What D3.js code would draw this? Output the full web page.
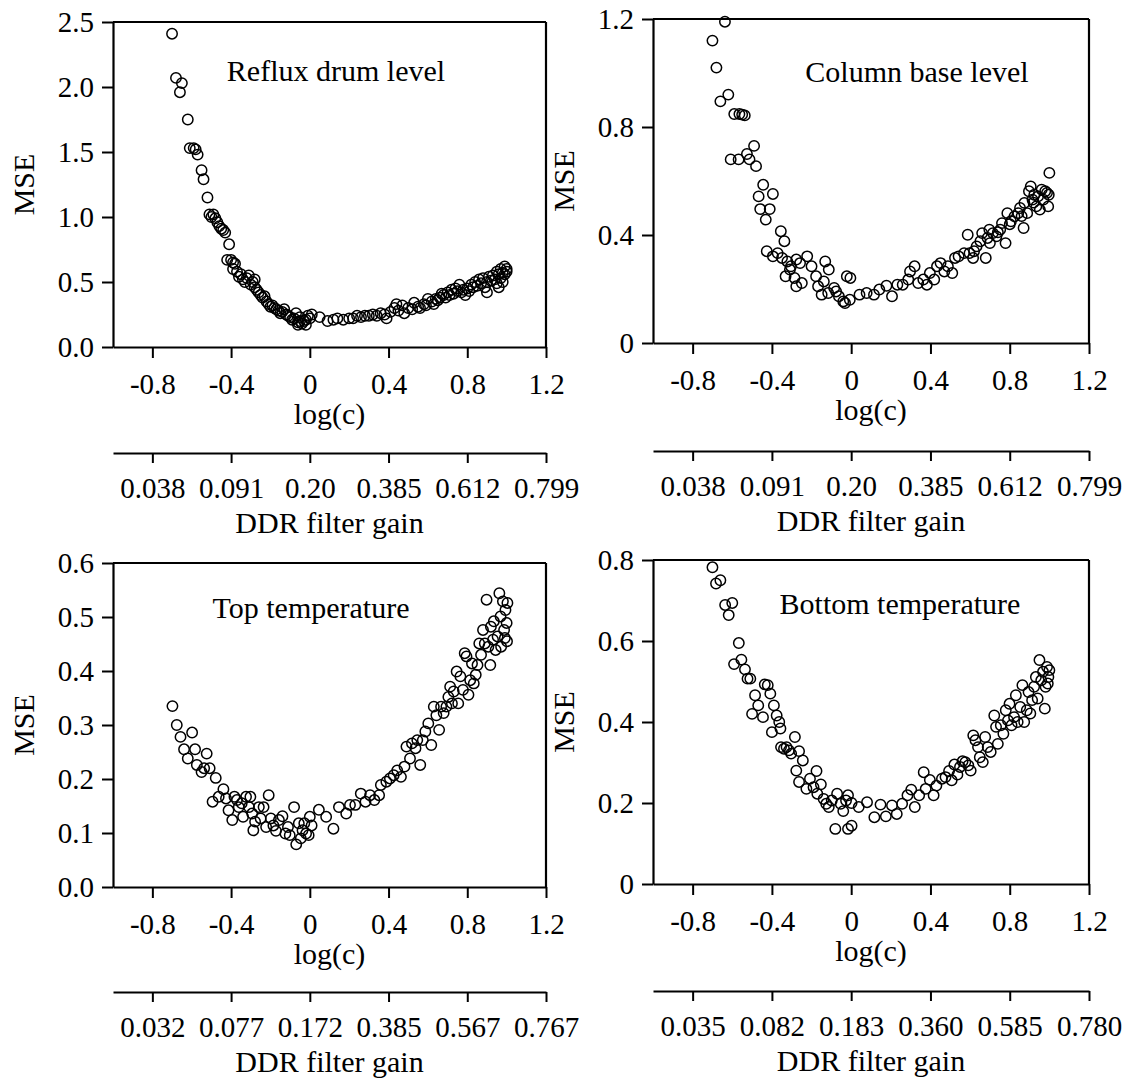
<!DOCTYPE html>
<html>
<head>
<meta charset="utf-8">
<script src="https://cdn.jsdelivr.net/npm/d3@7"></script>
<style>
  body { margin: 0; background: #fff; }
  svg { display: block; }
</style>
</head>
<body>
<div id="chart"></div>
<script>
// Shared log(c) ticks and the DDR filter gain labels that sit under them.
var xTicks = [-0.8, -0.4, 0, 0.4, 0.8, 1.2];
var gainLevel = ["0.038", "0.091", "0.20", "0.385", "0.612", "0.799"];
var gainTopTemp = ["0.032", "0.077", "0.172", "0.385", "0.567", "0.767"];
var gainBottomTemp = ["0.035", "0.082", "0.183", "0.360", "0.585", "0.780"];

var yTicksReflux = [0, 0.5, 1.0, 1.5, 2.0, 2.5];
var yTicksBase = [0, 0.4, 0.8, 1.2];
var yTicksTopTemp = [0, 0.1, 0.2, 0.3, 0.4, 0.5, 0.6];
var yTicksBottomTemp = [0, 0.2, 0.4, 0.6, 0.8];

// [log(c), MSE].
var refluxDrum = [
  [-0.70,2.41],[-0.68,2.07],[-0.65,2.03],[-0.66,1.96],[-0.62,1.75],
  [-0.61,1.53],[-0.59,1.53],[-0.58,1.52],[-0.57,1.48],[-0.55,1.36],[-0.54,1.29],
  [-0.52,1.15],[-0.51,1.02],[-0.50,1.00],[-0.49,1.02],[-0.48,0.99],[-0.47,0.96],
  [-0.46,0.93],[-0.45,0.91],[-0.44,0.90],[-0.43,0.88],[-0.41,0.79],
  [-0.42,0.67],[-0.40,0.67],[-0.39,0.65],[-0.38,0.64],[-0.39,0.60],[-0.37,0.58],
  [-0.36,0.54],[-0.35,0.56],[-0.34,0.52],[-0.33,0.50],[-0.32,0.53],[-0.31,0.55],
  [-0.30,0.48],[-0.29,0.50],[-0.28,0.46],[-0.28,0.52],[-0.27,0.44],[-0.26,0.42],
  [-0.25,0.40],[-0.24,0.38],[-0.23,0.39],[-0.22,0.35],[-0.21,0.33],[-0.20,0.31],
  [-0.19,0.32],[-0.18,0.30],[-0.17,0.29],[-0.16,0.28],[-0.15,0.26],[-0.14,0.27],
  [-0.13,0.29],[-0.12,0.25],[-0.11,0.24],[-0.10,0.23],[-0.09,0.21],[-0.08,0.22],
  [-0.07,0.26],[-0.06,0.19],[-0.05,0.20],[-0.05,0.23],[-0.04,0.18],[-0.03,0.20],
  [-0.02,0.21],[-0.01,0.24],[0.00,0.22],[0.01,0.25],[-0.02,0.17],[-0.06,0.17],
  [0.05,0.23],[0.09,0.20],[0.12,0.21],[0.14,0.22],[0.17,0.21],[0.20,0.22],
  [0.22,0.22],[0.24,0.24],[0.26,0.23],[0.28,0.24],[0.30,0.24],[0.32,0.25],
  [0.34,0.24],[0.36,0.26],[0.38,0.25],[0.39,0.22],[0.41,0.27],[0.43,0.30],
  [0.44,0.33],[0.45,0.28],[0.47,0.32],[0.48,0.26],[0.50,0.30],[0.52,0.29],
  [0.53,0.34],[0.55,0.31],[0.56,0.30],[0.58,0.33],[0.59,0.32],[0.60,0.37],
  [0.62,0.35],[0.63,0.33],[0.64,0.37],[0.65,0.36],[0.66,0.38],[0.67,0.41],
  [0.68,0.40],[0.69,0.38],[0.70,0.42],[0.71,0.40],[0.72,0.44],[0.73,0.41],
  [0.74,0.45],[0.75,0.43],[0.76,0.48],[0.77,0.42],[0.78,0.44],[0.79,0.40],
  [0.80,0.45],[0.81,0.43],[0.82,0.48],[0.83,0.46],[0.84,0.50],[0.85,0.47],
  [0.86,0.52],[0.87,0.49],[0.88,0.53],[0.89,0.46],[0.90,0.50],[0.90,0.42],
  [0.91,0.54],[0.92,0.51],[0.93,0.55],[0.94,0.52],[0.95,0.58],[0.95,0.49],
  [0.96,0.56],[0.96,0.46],[0.97,0.60],[0.97,0.53],[0.98,0.57],[0.98,0.50],
  [0.99,0.62],[0.99,0.56],[1.00,0.58],[1.00,0.60]
];

var columnBase = [
  [-0.637,1.19],[-0.70,1.12],[-0.68,1.02],[-0.66,0.895],[-0.62,0.92],
  [-0.59,0.848],[-0.564,0.848],[-0.55,0.846],[-0.537,0.843],
  [-0.608,0.68],[-0.568,0.68],[-0.526,0.70],[-0.49,0.73],[-0.513,0.68],[-0.48,0.655],
  [-0.467,0.543],[-0.444,0.586],[-0.395,0.552],[-0.459,0.496],[-0.411,0.496],[-0.431,0.457],
  [-0.355,0.414],[-0.337,0.377],
  [-0.426,0.340],[-0.395,0.321],[-0.371,0.333],[-0.349,0.315],[-0.322,0.302],[-0.304,0.284],
  [-0.277,0.309],[-0.258,0.296],[-0.331,0.247],[-0.309,0.272],[-0.286,0.241],[-0.277,0.210],
  [-0.249,0.222],[-0.222,0.321],[-0.200,0.284],[-0.177,0.247],[-0.167,0.210],[-0.149,0.179],
  [-0.131,0.302],[-0.113,0.272],[-0.138,0.228],[-0.116,0.185],[-0.086,0.204],[-0.076,0.191],
  [-0.062,0.173],[-0.040,0.154],[-0.031,0.148],[-0.022,0.247],[-0.004,0.241],[-0.007,0.160],
  [0.042,0.179],[0.078,0.185],[0.115,0.179],[0.142,0.198],[0.178,0.212],[0.206,0.173],
  [0.233,0.216],[0.26,0.216],[0.288,0.235],[0.297,0.265],[0.32,0.284],[0.338,0.222],
  [0.364,0.235],[0.382,0.216],[0.397,0.259],[0.419,0.235],[0.433,0.284],[0.451,0.296],
  [0.47,0.265],[0.488,0.284],[0.51,0.259],[0.524,0.315],[0.542,0.321],[0.57,0.333],
  [0.588,0.401],[0.597,0.333],[0.615,0.315],[0.633,0.358],[0.652,0.377],[0.661,0.407],
  [0.679,0.315],[0.688,0.389],[0.697,0.420],[0.715,0.407],[0.733,0.395],[0.752,0.420],
  [0.761,0.444],[0.779,0.370],[0.788,0.481],[0.806,0.451],[0.824,0.469],[0.843,0.481],
  [0.852,0.50],[0.87,0.426],[0.874,0.519],[0.888,0.481],[0.897,0.562],[0.906,0.580],
  [0.915,0.531],[0.924,0.549],[0.934,0.506],[0.943,0.543],[0.952,0.494],[0.961,0.568],
  [0.97,0.531],[0.979,0.562],[0.988,0.556],[0.994,0.506],[1.0,0.630],[0.997,0.549],
  [0.62,0.34],[0.70,0.37],[0.74,0.41],[0.80,0.44],[0.86,0.47],[0.92,0.52]
];

var topTemp = [
  [-0.698,0.335],[-0.676,0.30],[-0.657,0.278],[-0.598,0.286],[-0.639,0.255],[-0.583,0.255],
  [-0.62,0.238],[-0.524,0.247],[-0.574,0.226],[-0.55,0.213],[-0.509,0.22],[-0.478,0.202],
  [-0.537,0.22],[-0.494,0.158],[-0.463,0.167],[-0.439,0.181],[-0.426,0.164],[-0.413,0.142],
  [-0.394,0.124],[-0.383,0.167],[-0.37,0.161],[-0.361,0.148],[-0.346,0.155],[-0.339,0.13],
  [-0.324,0.167],[-0.309,0.148],[-0.302,0.167],[-0.293,0.136],[-0.287,0.105],[-0.278,0.121],
  [-0.259,0.148],[-0.25,0.127],[-0.235,0.148],[-0.222,0.111],[-0.209,0.17],[-0.198,0.127],
  [-0.185,0.114],[-0.172,0.104],[-0.157,0.124],[-0.139,0.131],[-0.124,0.099],[-0.111,0.111],
  [-0.102,0.096],[-0.08,0.148],[-0.069,0.079],[-0.056,0.118],[-0.046,0.09],[-0.037,0.105],
  [-0.028,0.118],[-0.019,0.099],[-0.006,0.096],[0.0,0.13],[0.009,0.114],[0.046,0.143],
  [0.083,0.13],[0.12,0.108],[0.148,0.148],[0.185,0.136],[0.204,0.152],[0.231,0.152],
  [0.259,0.173],[0.283,0.158],[0.306,0.17],[0.328,0.161],[0.352,0.17],[0.361,0.189],
  [0.389,0.195],[0.407,0.201],[0.426,0.207],[0.444,0.216],[0.463,0.204],[0.481,0.223],
  [0.491,0.26],[0.509,0.238],[0.519,0.266],[0.537,0.257],[0.546,0.272],[0.561,0.226],
  [0.574,0.272],[0.587,0.288],[0.602,0.303],[0.617,0.263],[0.63,0.334],[0.643,0.318],
  [0.657,0.291],[0.667,0.334],[0.68,0.322],[0.694,0.334],[0.704,0.352],[0.713,0.371],
  [0.722,0.34],[0.731,0.362],[0.746,0.399],[0.754,0.34],[0.765,0.39],[0.778,0.365],
  [0.787,0.433],[0.796,0.427],[0.806,0.356],[0.815,0.383],[0.824,0.414],[0.833,0.377],
  [0.843,0.393],[0.852,0.411],[0.861,0.451],[0.87,0.43],[0.88,0.476],[0.889,0.451],
  [0.898,0.532],[0.907,0.445],[0.917,0.411],[0.92,0.482],[0.931,0.458],[0.935,0.492],
  [0.944,0.439],[0.954,0.464],[0.963,0.544],[0.969,0.501],[0.972,0.445],[0.981,0.529],
  [0.987,0.476],[0.991,0.461],[0.994,0.513],[1.0,0.489],[1.004,0.526],[1.002,0.455]
];

var bottomTemp = [
  [-0.70,0.782],[-0.682,0.742],[-0.66,0.75],[-0.636,0.689],[-0.60,0.694],[-0.618,0.664],
  [-0.567,0.595],[-0.591,0.543],[-0.554,0.554],[-0.536,0.53],[-0.523,0.507],[-0.509,0.507],
  [-0.485,0.466],[-0.50,0.42],[-0.469,0.441],[-0.445,0.412],[-0.436,0.493],[-0.421,0.491],
  [-0.408,0.47],[-0.40,0.375],[-0.39,0.441],[-0.376,0.416],[-0.363,0.40],[-0.357,0.384],
  [-0.354,0.338],[-0.339,0.334],[-0.326,0.338],[-0.314,0.33],[-0.303,0.322],[-0.284,0.363],
  [-0.277,0.28],[-0.263,0.328],[-0.244,0.305],[-0.263,0.252],[-0.226,0.235],[-0.208,0.26],
  [-0.19,0.239],[-0.175,0.279],[-0.171,0.223],[-0.153,0.246],[-0.139,0.21],[-0.126,0.198],
  [-0.113,0.19],[-0.098,0.206],[-0.08,0.136],[-0.071,0.223],[-0.053,0.198],[-0.04,0.18],
  [-0.026,0.206],[-0.016,0.219],[-0.016,0.136],[0.002,0.144],[0.002,0.20],[0.038,0.19],
  [0.08,0.202],[0.117,0.165],[0.148,0.196],[0.175,0.167],[0.206,0.194],[0.23,0.173],
  [0.257,0.198],[0.284,0.219],[0.303,0.233],[0.321,0.19],[0.343,0.219],[0.366,0.276],
  [0.376,0.235],[0.397,0.257],[0.416,0.219],[0.43,0.243],[0.458,0.26],[0.476,0.264],
  [0.494,0.279],[0.507,0.256],[0.521,0.295],[0.536,0.27],[0.549,0.289],[0.562,0.303],
  [0.576,0.301],[0.591,0.293],[0.603,0.28],[0.616,0.367],[0.627,0.355],[0.64,0.338],
  [0.649,0.313],[0.664,0.301],[0.676,0.363],[0.689,0.338],[0.704,0.326],[0.722,0.416],
  [0.731,0.388],[0.74,0.346],[0.755,0.392],[0.768,0.371],[0.78,0.429],[0.791,0.404],
  [0.799,0.445],[0.809,0.392],[0.822,0.412],[0.831,0.466],[0.84,0.40],[0.853,0.437],
  [0.864,0.491],[0.873,0.40],[0.886,0.429],[0.895,0.474],[0.904,0.421],[0.913,0.454],
  [0.923,0.487],[0.932,0.511],[0.941,0.458],[0.95,0.553],[0.959,0.503],[0.968,0.524],
  [0.977,0.433],[0.981,0.487],[0.988,0.536],[0.995,0.511],[1.0,0.528],[0.992,0.495]
];

var fmtFixed = function(d) { return d.toFixed(1); };
var fmtPlain = function(d) { return String(d); };
var serif = "'Liberation Serif', 'Times New Roman', Times, serif";

// Where each panel sits on the page.
var panels = [
  { title: "Reflux drum level", data: refluxDrum, yMax: 2.5, yTicks: yTicksReflux, yFmt: fmtFixed,
    gain: gainLevel, left: 113, right: 546, top: 22, bottom: 347, secY: 453, titleX: 336, titleY: 81 },
  { title: "Column base level", data: columnBase, yMax: 1.2, yTicks: yTicksBase, yFmt: fmtPlain,
    gain: gainLevel, left: 653, right: 1089, top: 19, bottom: 343, secY: 451, titleX: 917, titleY: 82 },
  { title: "Top temperature", data: topTemp, yMax: 0.6, yTicks: yTicksTopTemp, yFmt: fmtFixed,
    gain: gainTopTemp, left: 113, right: 546, top: 563, bottom: 887, secY: 992, titleX: 311, titleY: 618 },
  { title: "Bottom temperature", data: bottomTemp, yMax: 0.8, yTicks: yTicksBottomTemp, yFmt: fmtPlain,
    gain: gainBottomTemp, left: 653, right: 1089, top: 560, bottom: 884, secY: 991, titleX: 900, titleY: 614 }
];

var svg = d3.select("#chart").append("svg")
  .attr("width", 1134)
  .attr("height", 1080);

function styleAxis(g, fontSize) {
  g.attr("font-family", serif).attr("font-size", fontSize);
  g.select(".domain").attr("stroke-width", 2.2);
  g.selectAll(".tick line").attr("stroke-width", 2);
  g.selectAll(".tick text")
    .style("font-family", serif)
    .style("font-size", fontSize + "px")
    .attr("fill", "#000");
}

function label(g, txt) {
  return g.append("text")
    .attr("text-anchor", "middle")
    .style("font-family", serif)
    .style("font-size", "30px")
    .attr("fill", "#000")
    .text(txt);
}

panels.forEach(function(p) {
  var x = d3.scaleLinear().domain([-1.0, 1.2]).range([p.left, p.right]);
  var y = d3.scaleLinear().domain([0, p.yMax]).range([p.bottom, p.top]);
  var g = svg.append("g");

  // Box: top and right edges, left/bottom come from the axes.
  g.append("line")
    .attr("x1", p.left).attr("x2", p.right)
    .attr("y1", p.top).attr("y2", p.top)
    .attr("stroke", "#000").attr("stroke-width", 2.2);
  g.append("line")
    .attr("x1", p.right).attr("x2", p.right)
    .attr("y1", p.top).attr("y2", p.bottom)
    .attr("stroke", "#000").attr("stroke-width", 2.2);

  // y axis.
  g.append("g")
    .attr("transform", "translate(" + p.left + ",0)")
    .call(d3.axisLeft(y).tickValues(p.yTicks).tickFormat(p.yFmt)
      .tickSize(11).tickSizeOuter(0).tickPadding(8))
    .call(styleAxis, 29);

  // log(c) axis.
  var xAxis = g.append("g")
    .attr("transform", "translate(0," + p.bottom + ")")
    .call(d3.axisBottom(x).tickValues(xTicks).tickFormat(fmtPlain)
      .tickSize(11).tickSizeOuter(0))
    .call(styleAxis, 29);
  xAxis.selectAll(".tick text").attr("y", 47).attr("dy", null);

  // DDR filter gain axis, same positions with different labels.
  var gainAxis = g.append("g")
    .attr("transform", "translate(0," + p.secY + ")")
    .call(d3.axisBottom(x).tickValues(xTicks)
      .tickFormat(function(d, i) { return p.gain[i]; })
      .tickSize(10).tickSizeOuter(0))
    .call(styleAxis, 29);
  gainAxis.selectAll(".tick text").attr("y", 45).attr("dy", null);

  // Points.
  g.append("g").selectAll("circle")
    .data(p.data)
    .enter().append("circle")
    .attr("cx", function(d) { return x(d[0]); })
    .attr("cy", function(d) { return y(d[1]); })
    .attr("r", 5.2)
    .attr("fill", "none")
    .attr("stroke", "#000")
    .attr("stroke-width", 1.5);

  // Titles and axis labels.
  label(g, p.title).attr("x", p.titleX).attr("y", p.titleY);

  label(g, "MSE")
    .attr("transform", "translate(" + (p.left - 79) + "," + ((p.top + p.bottom) / 2) + ") rotate(-90)");

  label(g, "log(c)").attr("x", (p.left + p.right) / 2).attr("y", p.bottom + 77);

  label(g, "DDR filter gain").attr("x", (p.left + p.right) / 2).attr("y", p.secY + 80);
});
</script>
</body>
</html>
